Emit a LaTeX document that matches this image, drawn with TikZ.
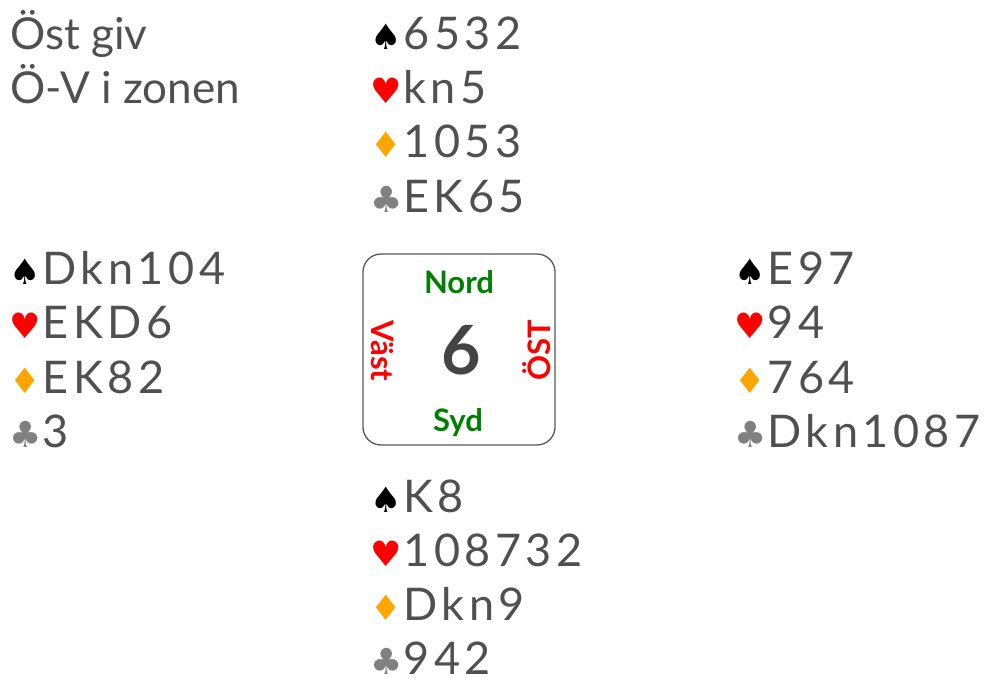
\documentclass[tikz,border=0pt]{standalone}
\usepackage{fontspec}
\setmainfont{Lato}
\newfontfamily\handfont[LetterSpace=10]{Lato}
\newfontfamily\suitfont{DejaVu Sans}
\definecolor{txt}{HTML}{505050}
\definecolor{numc}{HTML}{444444}
\definecolor{dia}{HTML}{FFA500}
\definecolor{clb}{HTML}{808080}
\definecolor{grn}{HTML}{008000}
\newcommand\suitS{{\suitfont\fontsize{35}{35}\selectfont\color{black}♠}\hspace{2pt}}
\newcommand\suitH{{\suitfont\fontsize{35}{35}\selectfont\color{red}♥}\hspace{2pt}}
\newcommand\suitD{{\suitfont\fontsize{35}{35}\selectfont\color{dia}♦}\hspace{2pt}}
\newcommand\suitC{{\suitfont\fontsize{36}{36}\selectfont\color{clb}♣}\hspace{1pt}}
\tikzset{
  hand/.style={anchor=base west, inner sep=0pt, text=txt, font=\handfont\fontsize{45}{45}\selectfont},
  head/.style={anchor=base west, inner sep=0pt, text=txt, font=\fontsize{44}{44}\selectfont},
  dir/.style={inner sep=0pt, font=\bfseries\fontsize{31}{31}\selectfont},
}
\begin{document}
\begin{tikzpicture}[x=1pt,y=-1pt]
\useasboundingbox (0,0) rectangle (987,677);
% header
\node[head] (h1) at (10,49) {Öst giv};
\node[head] (h2) at (10,103) {Ö-V i zonen};
% north
\node[hand] (n1) at (370,49) {\suitS6532};
\node[hand] (n2) at (370,103) {\suitH kn5};
\node[hand] (n3) at (370,157.5) {\suitD1053};
\node[hand] (n4) at (370,212) {\suitC EK65};
% west
\node[hand] (w1) at (9,284) {\suitS Dkn104};
\node[hand] (w2) at (9,338.5) {\suitH EKD6};
\node[hand] (w3) at (9,393) {\suitD EK82};
\node[hand] (w4) at (9,447) {\suitC3};
% east
\node[hand] (e1) at (734,284) {\suitS E97};
\node[hand] (e2) at (734,338.5) {\suitH94};
\node[hand] (e3) at (734,393) {\suitD764};
\node[hand] (e4) at (734,447) {\suitC Dkn1087};
% south
\node[hand] (s1) at (370,512) {\suitS K8};
\node[hand] (s2) at (370,566) {\suitH108732};
\node[hand] (s3) at (370,620) {\suitD Dkn9};
\node[hand] (s4) at (370,674) {\suitC942};
% board
\draw[draw=numc!90, line width=1.3pt, rounded corners=18pt] (363,254) rectangle (555,445);
\node[dir, text=grn, anchor=base] (nord) at (459,293) {Nord};
\node[dir, text=grn, anchor=base] (syd) at (458,431) {Syd};
\node[dir, text=red, rotate=-90] (vast) at (383,351) {Väst};
\node[dir, text=red, rotate=90] (ost) at (537,350) {ÖST};
\node[inner sep=0pt, text=numc, font=\bfseries\fontsize{68}{68}\selectfont] (num) at (461,350) {6};
\end{tikzpicture}
\end{document}
